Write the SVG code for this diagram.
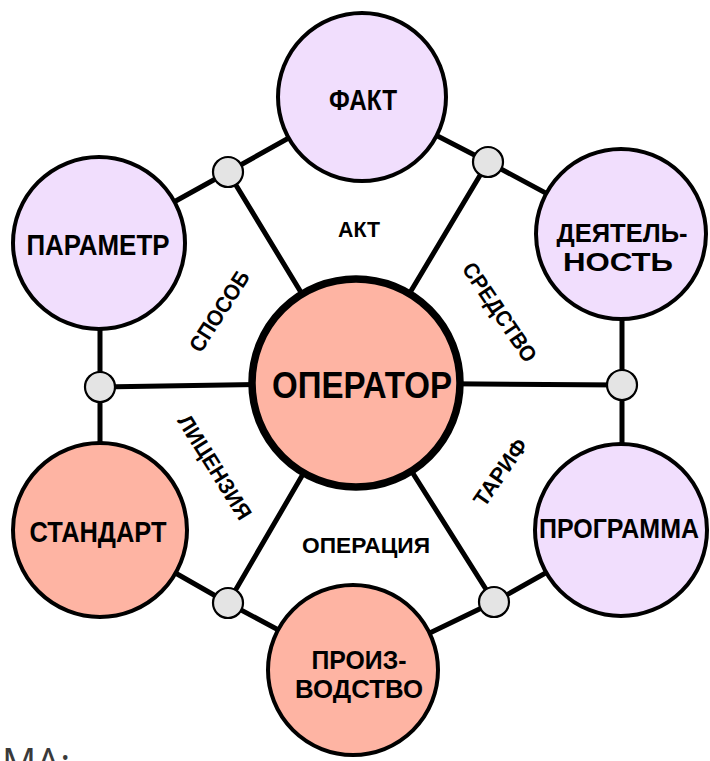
<svg xmlns="http://www.w3.org/2000/svg" width="710" height="761" viewBox="0 0 710 761">
  <style>
    .wire { stroke: #000; stroke-width: 5; fill: none; stroke-linecap: round; }
    .lav { fill: #f1defd; stroke: #000; stroke-width: 4; }
    .sal { fill: #feb4a3; stroke: #000; stroke-width: 4; }
    .hub { fill: #feb4a3; stroke: #000; stroke-width: 7.5; }
    .joint { fill: #e4e4e4; stroke: #000; stroke-width: 2.2; }
    .t { font-family: "Liberation Sans", Arial, sans-serif; font-weight: bold; fill: #000; text-anchor: middle; }
    .big { font-size: 29px; }
    .two { font-size: 25px; }
    .lbl { font-size: 22px; }
    .head { font-family: "Open Sans", "Noto Sans", sans-serif; font-size: 38px; fill: #3a3a3a; }
  </style>

  <!-- connectors: outer ring and spokes to the hub -->
  <g id="connectors">
    <polyline class="wire" points="100,243 228,172 362,97 488,162 622,234 622,385 622,530 494,602 353,670 228,603 100,530 100,387 100,243"/>
    <line class="wire" x1="228" y1="172" x2="356" y2="383"/>
    <line class="wire" x1="488" y1="162" x2="356" y2="383"/>
    <line class="wire" x1="100" y1="387" x2="356" y2="383"/>
    <line class="wire" x1="622" y1="385" x2="356" y2="383"/>
    <line class="wire" x1="228" y1="603" x2="356" y2="383"/>
    <line class="wire" x1="494" y1="602" x2="356" y2="383"/>
  </g>

  <!-- junction dots -->
  <g id="joints">
    <circle class="joint" cx="228" cy="172" r="15"/>
    <circle class="joint" cx="488" cy="162" r="15"/>
    <circle class="joint" cx="100" cy="387" r="15"/>
    <circle class="joint" cx="622" cy="385" r="15"/>
    <circle class="joint" cx="228" cy="603" r="15"/>
    <circle class="joint" cx="494" cy="602" r="15"/>
  </g>

  <g id="operator">
    <circle class="hub" cx="356" cy="383" r="104"/>
    <text class="t" x="362" y="398" font-size="37" textLength="180" lengthAdjust="spacingAndGlyphs">ОПЕРАТОР</text>
  </g>

  <g id="fakt">
    <circle class="lav" cx="362" cy="97" r="84"/>
    <text class="t big" x="363" y="110" textLength="68" lengthAdjust="spacingAndGlyphs">ФАКТ</text>
  </g>

  <g id="deyatelnost">
    <circle class="lav" cx="621" cy="234" r="85"/>
    <text class="t two" x="622" y="242" textLength="131" lengthAdjust="spacingAndGlyphs">ДЕЯТЕЛЬ-</text>
    <text class="t two" x="618" y="271" textLength="110" lengthAdjust="spacingAndGlyphs">НОСТЬ</text>
  </g>

  <g id="programma">
    <circle class="lav" cx="621" cy="530" r="86"/>
    <text class="t" x="619" y="538" font-size="27" textLength="160" lengthAdjust="spacingAndGlyphs">ПРОГРАММА</text>
  </g>

  <g id="proizvodstvo">
    <circle class="sal" cx="353" cy="670" r="85"/>
    <text class="t two" x="359" y="669" textLength="95" lengthAdjust="spacingAndGlyphs">ПРОИЗ-</text>
    <text class="t two" x="359" y="698" textLength="128" lengthAdjust="spacingAndGlyphs">ВОДСТВО</text>
  </g>

  <g id="standart">
    <circle class="sal" cx="100" cy="530" r="87"/>
    <text class="t big" x="98" y="542" textLength="137" lengthAdjust="spacingAndGlyphs">СТАНДАРТ</text>
  </g>

  <g id="parametr">
    <circle class="lav" cx="99" cy="243" r="86"/>
    <text class="t big" x="98" y="255" textLength="143" lengthAdjust="spacingAndGlyphs">ПАРАМЕТР</text>
  </g>

  <!-- sector labels around the hub -->
  <g id="sector-labels">
    <text class="t lbl" x="359" y="237" textLength="42" lengthAdjust="spacingAndGlyphs">АКТ</text>
    <text class="t lbl" x="366" y="553" textLength="128" lengthAdjust="spacingAndGlyphs">ОПЕРАЦИЯ</text>
    <text class="t lbl" transform="translate(219,311) rotate(-57)" y="8" textLength="92" lengthAdjust="spacingAndGlyphs">СПОСОБ</text>
    <text class="t lbl" transform="translate(500,312) rotate(56)" y="8" textLength="115" lengthAdjust="spacingAndGlyphs">СРЕДСТВО</text>
    <text class="t lbl" transform="translate(215,467) rotate(58)" y="8" textLength="119" lengthAdjust="spacingAndGlyphs">ЛИЦЕНЗИЯ</text>
    <text class="t lbl" transform="translate(500,472) rotate(-55)" y="8" textLength="77" lengthAdjust="spacingAndGlyphs">ТАРИФ</text>
  </g>

  <text class="head" x="2" y="776">МА:</text>
</svg>
